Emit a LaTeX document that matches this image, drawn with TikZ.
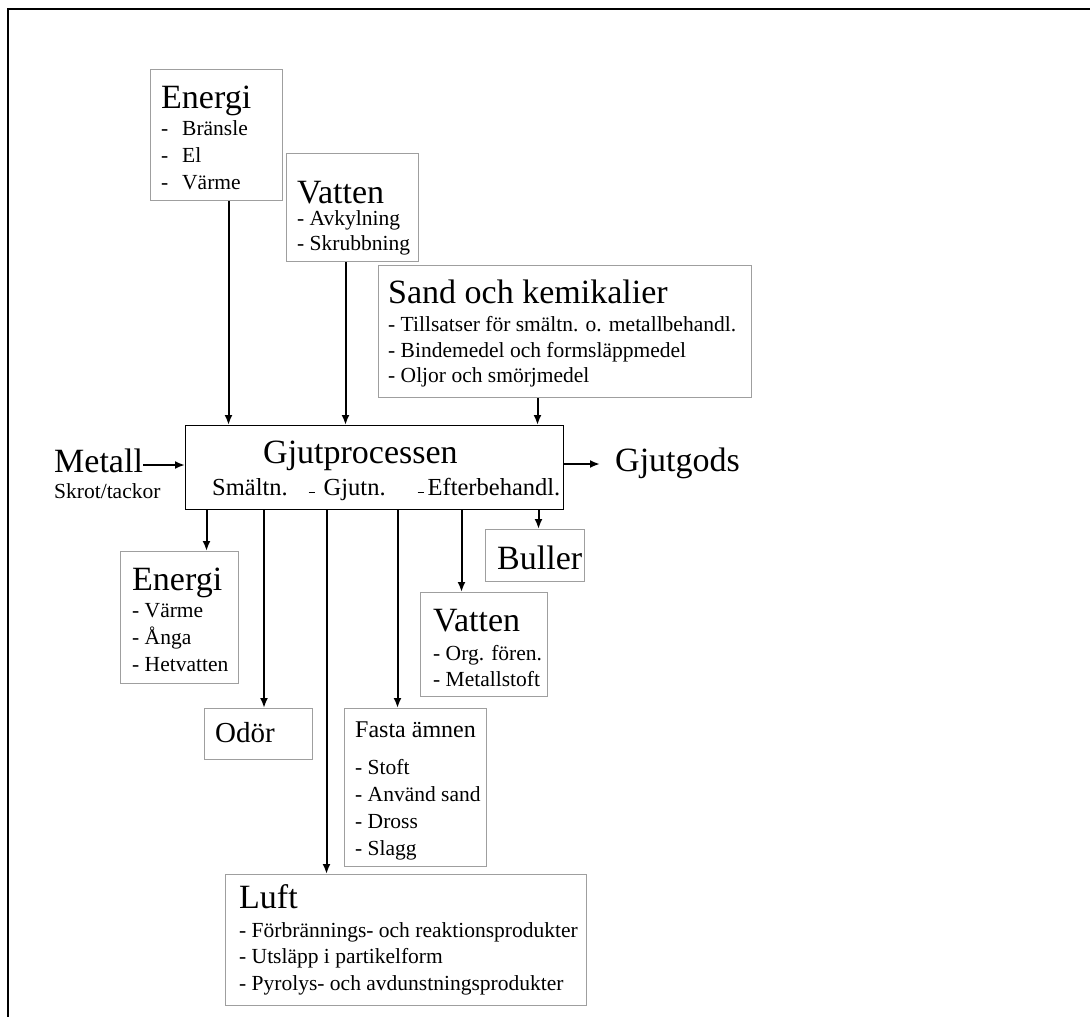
\documentclass[tikz,border=0pt]{standalone}
\usepackage{fontspec}
\setmainfont{Liberation Serif}
\usetikzlibrary{arrows.meta}
\newcommand\stor{\fontsize{34}{40}\selectfont}
\newcommand\liten{\fontsize{21.5}{27}\selectfont}
\tikzset{
  ruta/.style={draw=gray!75, line width=1pt, anchor=north west, inner sep=0pt},
  txt/.style={anchor=base west, inner sep=0pt},
  pil/.style={-{Latex[length=10pt,width=8pt]}, line width=2pt},
}
\begin{document}
\begin{tikzpicture}[x=1pt,y=-1pt]
\useasboundingbox (0,0) rectangle (1090,1017);
\draw[line width=2pt] (8,1017) -- (8,9) -- (1090,9);

% tillfoersel
\node[ruta, minimum width=132pt, minimum height=131pt] (energiin) at (150,69) {};
\node[txt] (energiinT) at (161,108) {\parbox[t]{200pt}{\raggedright\stor Energi\\\liten
  \makebox[21pt][l]{-}Bränsle\\\makebox[21pt][l]{-}El\\\makebox[21pt][l]{-}Värme}};
\node[ruta, minimum width=132pt, minimum height=108pt] (vattenin) at (286,153) {};
\node[txt] (vatteninT) at (297,203) {\parbox[t]{200pt}{\raggedright\stor Vatten\\[-3pt]\fontsize{21.5}{25}\selectfont
  - Avkylning\\- Skrubbning}};
\node[ruta, minimum width=373pt, minimum height=132pt] (sand) at (378,265) {};
\node[txt] (sandT) at (388,303) {\parbox[t]{400pt}{\raggedright\stor Sand och kemikalier\\[3pt]\fontsize{21.5}{25.5}\selectfont
  - Tillsatser för smältn. o. metallbehandl.\\- Bindemedel och formsläppmedel\\- Oljor och smörjmedel}};

% processen
\node[ruta, draw=black, line width=1.4pt, minimum width=378pt, minimum height=84pt] (process) at (185,425) {};
\node[txt] (titel) at (263,463) {\stor Gjutprocessen};
\node[txt] (steg) at (212,495) {\fontsize{24.5}{30}\selectfont Smältn.\hspace{21pt}\rule[2pt]{6pt}{1.5pt}\hspace{9pt}Gjutn.\hspace{32pt}\rule[2pt]{6pt}{1.5pt}\hspace{4pt}Efterbehandl.};

\node[txt] (metall) at (54,472) {\stor Metall};
\node[txt] (skrot) at (54,498) {\liten Skrot/tackor};
\node[txt] (gjutgods) at (615,471) {\stor Gjutgods};

% utslaepp
\node[ruta, minimum width=118pt, minimum height=132pt] (energiut) at (120,551) {};
\node[txt] (energiutT) at (132,590) {\parbox[t]{200pt}{\raggedright\stor Energi\\\liten
  - Värme\\- Ånga\\- Hetvatten}};
\node[ruta, minimum width=108pt, minimum height=51pt] (odor) at (204,708) {};
\node[txt] (odorT) at (215,742) {\fontsize{29}{34}\selectfont Odör};
\node[ruta, minimum width=142pt, minimum height=158pt] (fasta) at (344,708) {};
\node[txt] (fastaT) at (355,737) {\parbox[t]{200pt}{\raggedright\fontsize{24}{28}\selectfont Fasta ämnen\\[10pt]\liten
  - Stoft\\- Använd sand\\- Dross\\- Slagg}};
\node[ruta, minimum width=127pt, minimum height=104pt] (vattenut) at (420,592) {};
\node[txt] (vattenutT) at (433,631) {\parbox[t]{200pt}{\raggedright\stor Vatten\\[3pt]\fontsize{21.5}{26}\selectfont
  - Org. fören.\\- Metallstoft}};
\node[ruta, minimum width=99pt, minimum height=52pt] (buller) at (485,529) {};
\node[txt] (bullerT) at (497,569) {\stor Buller};
\node[ruta, minimum width=361pt, minimum height=131pt] (luft) at (225,874) {};
\node[txt] (luftT) at (239,908) {\parbox[t]{400pt}{\raggedright\stor Luft\\[2.5pt]\fontsize{21.5}{26.5}\selectfont
  - Förbrännings- och reaktionsprodukter\\- Utsläpp i partikelform\\- Pyrolys- och avdunstningsprodukter}};

% pilar in
\coordinate (t1) at ([xshift=12pt]energiin.south);
\coordinate (t2) at ([xshift=-7pt]vattenin.south);
\coordinate (t3) at ([xshift=-27.5pt]sand.south);
\foreach \t in {t1,t2,t3}
  \draw[pil] (\t) -- (\t |- process.north);
\coordinate (m) at ([yshift=7pt]metall.base east);
\draw[pil] (m) -- (m -| process.west);
\coordinate (g) at ([xshift=-15pt,yshift=7pt]gjutgods.base west);
\draw[pil] (g -| process.east) -- (g);

% pilar ut
\coordinate (b1) at ([xshift=27pt]energiut.north);
\coordinate (b2) at ([xshift=5.5pt]odor.north);
\coordinate (b3) at ([xshift=-79.5pt]luft.north);
\coordinate (b4) at ([xshift=-18pt]fasta.north);
\coordinate (b5) at ([xshift=-22.5pt]vattenut.north);
\coordinate (b6) at ([xshift=3.5pt]buller.north);
\foreach \b in {b1,b2,b3,b4,b5,b6}
  \draw[pil] (\b |- process.south) -- (\b);
\end{tikzpicture}
\end{document}
